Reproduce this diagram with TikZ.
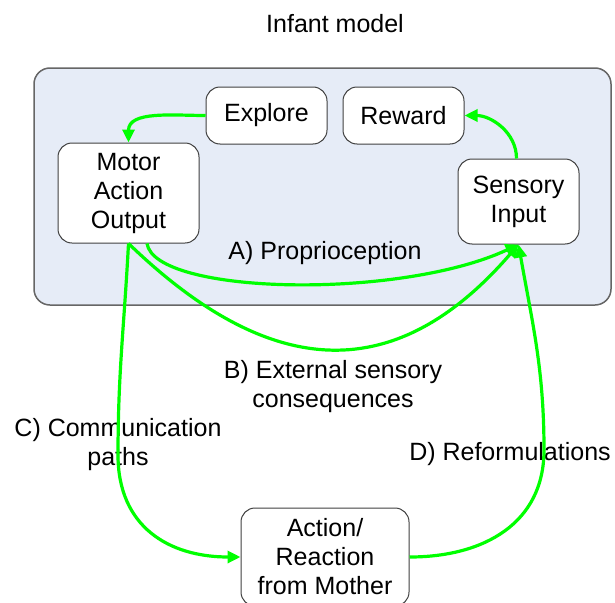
\documentclass[tikz,border=0pt]{standalone}
\usepackage{fontspec}
\setmainfont{Liberation Sans}
\usetikzlibrary{arrows.meta}
\definecolor{modelfill}{RGB}{230,236,247}
\definecolor{linkgreen}{RGB}{0,255,0}

\begin{document}
\begin{tikzpicture}[x=1pt,y=-1pt,
    font=\fontsize{25}{29}\selectfont,
    block/.style={draw=black!75, line width=1pt, fill=white, rounded corners=14pt,
                  align=center, inner sep=0pt},
    link/.style={draw=linkgreen, line width=3.2pt, -{Triangle[length=13pt,width=12pt]}}]
    \useasboundingbox (0,0) rectangle (615,602);

    % infant model
    \draw[draw=black!60, line width=1.5pt, fill=modelfill, rounded corners=16pt] (34,68) rectangle (611,305);
    \node (title) at (335,24) {Infant model};

    \node[block, minimum width=121pt, minimum height=57pt] (explore) at (266.5,115.5) {Explore};
    \node[block, minimum width=121pt, minimum height=57pt] (reward) at (403.5,115.5) {Reward};
    \node[block, minimum width=141pt, minimum height=100pt] (motor) at (128.5,193) {Motor\\Action\\Output};
    \node[block, minimum width=121pt, minimum height=85pt] (sensory) at (518.5,201.5) {Sensory\\Input};

    % mother
    \node[block, minimum width=168pt, minimum height=98pt] (mother) at (325,557) {Action/\\Reaction\\from Mother};

    % path labels
    \node[align=center] (proprio) at (325,253) {A) Proprioception};
    \node[align=center] (external) at (333,387) {B) External sensory\\consequences};
    \node[align=center] (commun) at (118,445) {C) Communication\\paths};
    \node[align=center] (reform) at (510,454) {D) Reformulations};

    % paths
    \draw[link] (explore.west) to[out=180,in=90] (motor.north);
    \draw[link] ([xshift=-2pt]sensory.north) to[out=90,in=0] (reward.east);
    \draw[link] ([xshift=18.5pt]motor.south) .. controls (155,295) and (400,300) .. (sensory.south);
    \draw[link] (motor.south) .. controls (274,384) and (398,384) .. (sensory.south);
    \draw[link] (motor.south) to[out=-93,in=90] (118,455) to[out=-90,in=180,looseness=1.15] (mother.west);
    \draw[link] (mother.east) to[out=0,in=-90,looseness=1.1] (544,450) to[out=90,in=-80] (sensory.south);
\end{tikzpicture}
\end{document}
